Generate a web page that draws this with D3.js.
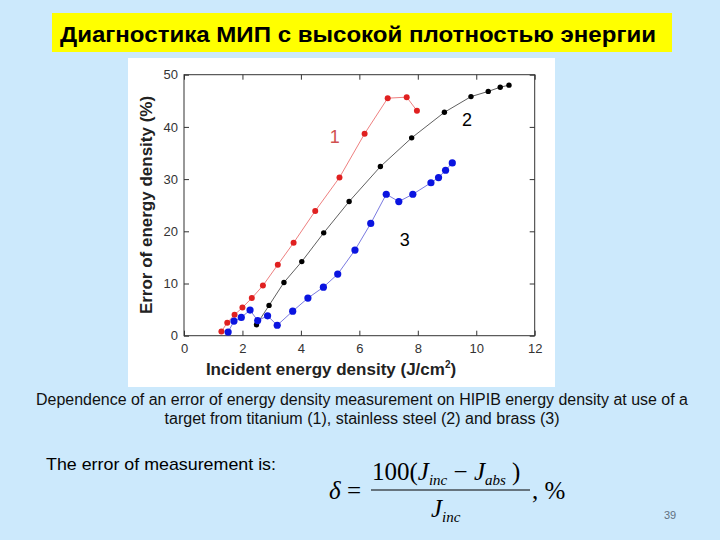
<!DOCTYPE html>
<html>
<head>
<meta charset="utf-8">
<script src="https://cdn.jsdelivr.net/npm/d3@7.9.0/dist/d3.min.js"></script>
<style>
  body { margin: 0; background: #cce9fc; }
  svg { display: block; }
</style>
</head>
<body>
<svg id="slide" width="720" height="540"></svg>
<script>
// Series: titanium (1), stainless steel (2), brass (3)
const xTitanium = [1.28, 1.48, 1.73, 2.0, 2.32, 2.70, 3.21, 3.75, 4.49, 5.32, 6.18, 6.97, 7.62, 7.97];
const yTitanium = [0.8, 2.5, 4.0, 5.4, 7.2, 9.6, 13.6, 17.8, 23.9, 30.3, 38.7, 45.5, 45.7, 43.1];

const xSteel = [2.48, 2.91, 3.42, 4.03, 4.78, 5.65, 6.72, 7.79, 8.91, 9.82, 10.41, 10.82, 11.12];
const ySteel = [2.1, 5.8, 10.2, 14.2, 19.7, 25.7, 32.4, 37.9, 42.8, 45.8, 46.8, 47.6, 48.0];

const xBrass = [1.51, 1.71, 1.96, 2.26, 2.52, 2.86, 3.19, 3.72, 4.24, 4.77, 5.26, 5.85, 6.39, 6.92, 7.35, 7.83, 8.45, 8.71, 8.95, 9.18];
const yBrass = [0.7, 2.8, 3.5, 4.9, 2.9, 3.8, 2.0, 4.7, 7.2, 9.3, 11.8, 16.4, 21.5, 27.1, 25.7, 27.1, 29.3, 30.3, 31.7, 33.1];

const xTicks = [0, 2, 4, 6, 8, 10, 12];
const yTicks = [0, 10, 20, 30, 40, 50];

const seriesLabels = ["1", "2", "3"];
const labelX = [5.16, 9.68, 7.55];
const labelY = [38.0, 41.4, 18.4];

const svg = d3.select('#slide');

// Title box
svg.append('rect')
    .attr('x', 52).attr('y', 13).attr('width', 620).attr('height', 39)
    .attr('fill', '#ffff00');
svg.append('text')
    .attr('x', 60).attr('y', 42)
    .attr('font-family', 'Liberation Sans, Arial, sans-serif')
    .attr('font-weight', 'bold')
    .attr('font-size', 22)
    .attr('textLength', 596)
    .attr('lengthAdjust', 'spacingAndGlyphs')
    .attr('fill', '#000')
    .text('Диагностика МИП с высокой плотностью энергии');

// White chart picture
svg.append('rect')
    .attr('x', 128).attr('y', 58).attr('width', 427).attr('height', 329)
    .attr('fill', '#fff');

const plotLeft = 184, plotRight = 534.7, plotTop = 74.7, plotBottom = 335.7;
const x = d3.scaleLinear().domain([0, 12]).range([plotLeft, plotRight]);
const y = d3.scaleLinear().domain([0, 50]).range([plotBottom, plotTop]);

const g = svg.append('g');

// frame
g.append('rect')
    .attr('x', plotLeft).attr('y', plotTop)
    .attr('width', plotRight - plotLeft).attr('height', plotBottom - plotTop)
    .attr('fill', 'none').attr('stroke', '#333').attr('stroke-width', 1);

function styleAxis(sel) {
    sel.select('.domain').remove();
    sel.selectAll('.tick line').attr('stroke', '#333');
    sel.selectAll('.tick text')
        .attr('font-family', 'Liberation Sans, Arial, sans-serif')
        .attr('font-size', 13)
        .attr('fill', '#333');
}

g.append('g').attr('transform', `translate(0,${plotBottom})`)
    .call(d3.axisBottom(x).tickValues(xTicks).tickSize(-5).tickPadding(8))
    .call(styleAxis);
g.append('g').attr('transform', `translate(0,${plotTop})`)
    .call(d3.axisTop(x).tickValues(xTicks).tickSize(-5).tickFormat(''))
    .call(styleAxis);
g.append('g').attr('transform', `translate(${plotLeft},0)`)
    .call(d3.axisLeft(y).tickValues(yTicks).tickSize(-5).tickPadding(6))
    .call(styleAxis);
g.append('g').attr('transform', `translate(${plotRight},0)`)
    .call(d3.axisRight(y).tickValues(yTicks).tickSize(-5).tickFormat(''))
    .call(styleAxis);

// axis titles
const xTitle = g.append('text')
    .attr('x', 331).attr('y', 375)
    .attr('text-anchor', 'middle')
    .attr('font-family', 'Liberation Sans, Arial, sans-serif')
    .attr('font-weight', 'bold')
    .attr('font-size', 17)
    .attr('fill', '#222');
xTitle.append('tspan').text('Incident energy density (J/cm');
xTitle.append('tspan').attr('font-size', 10).attr('dy', -7).text('2');
xTitle.append('tspan').attr('dy', 7).text(')');

g.append('text')
    .attr('transform', 'translate(152,205) rotate(-90)')
    .attr('text-anchor', 'middle')
    .attr('font-family', 'Liberation Sans, Arial, sans-serif')
    .attr('font-weight', 'bold')
    .attr('font-size', 17)
    .attr('fill', '#222')
    .text('Error of energy density (%)');

const series = [
    { xs: xTitanium, ys: yTitanium, line: '#ee8080', dot: '#e02020', r: 3 },
    { xs: xSteel, ys: ySteel, line: '#606060', dot: '#000', r: 2.7 },
    { xs: xBrass, ys: yBrass, line: '#7a7ae0', dot: '#0a14e0', r: 3.6 }
];

const line = d3.line().x(d => x(d[0])).y(d => y(d[1]));

series.forEach(s => {
    const pts = s.xs.map((v, i) => [v, s.ys[i]]);
    g.append('path')
        .attr('d', line(pts))
        .attr('fill', 'none')
        .attr('stroke', s.line)
        .attr('stroke-width', 1);
    g.selectAll(null).data(pts).enter().append('circle')
        .attr('cx', d => x(d[0]))
        .attr('cy', d => y(d[1]))
        .attr('r', s.r)
        .attr('fill', s.dot);
});

const labelColors = ['#d05050', '#000', '#000'];
seriesLabels.forEach((t, i) => {
    g.append('text')
        .attr('x', x(labelX[i])).attr('y', y(labelY[i]))
        .attr('text-anchor', 'middle')
        .attr('dominant-baseline', 'central')
        .attr('font-family', 'Liberation Sans, Arial, sans-serif')
        .attr('font-size', 18)
        .attr('fill', labelColors[i])
        .text(t);
});

// caption
const cap = svg.append('text')
    .attr('text-anchor', 'middle')
    .attr('font-family', 'Liberation Sans, Arial, sans-serif')
    .attr('font-size', 16)
    .attr('fill', '#111');
cap.append('tspan').attr('x', 362).attr('y', 405)
    .attr('textLength', 652).attr('lengthAdjust', 'spacingAndGlyphs')
    .text('Dependence of an error of energy density measurement on HIPIB energy density at use of a');
cap.append('tspan').attr('x', 362).attr('y', 424)
    .attr('textLength', 395).attr('lengthAdjust', 'spacingAndGlyphs')
    .text('target from titanium (1), stainless steel (2) and brass (3)');

svg.append('text')
    .attr('x', 46).attr('y', 470)
    .attr('font-family', 'Liberation Sans, Arial, sans-serif')
    .attr('font-size', 17)
    .attr('textLength', 230)
    .attr('lengthAdjust', 'spacingAndGlyphs')
    .attr('fill', '#000')
    .text('The error of measurement is:');

// formula
const serif = 'Liberation Serif, Times New Roman, serif';
const f = svg.append('g').attr('font-family', serif).attr('fill', '#000');
f.append('text').attr('x', 329).attr('y', 499).attr('font-size', 25)
    .attr('font-style', 'italic').text('δ');
f.append('text').attr('x', 347).attr('y', 499).attr('font-size', 25).text('=');
const num = f.append('text').attr('x', 372).attr('y', 480).attr('font-size', 25);
num.append('tspan').text('100(');
num.append('tspan').attr('font-style', 'italic').text('J');
num.append('tspan').attr('font-style', 'italic').attr('font-size', 15).attr('dy', 5).text('inc');
num.append('tspan').attr('dy', -5).text(' − ');
num.append('tspan').attr('font-style', 'italic').text('J');
num.append('tspan').attr('font-style', 'italic').attr('font-size', 15).attr('dy', 5).text('abs');
num.append('tspan').attr('dy', -5).text('  )');
f.append('line').attr('x1', 371).attr('x2', 530).attr('y1', 490).attr('y2', 490)
    .attr('stroke', '#000').attr('stroke-width', 1.2);
const den = f.append('text').attr('x', 431).attr('y', 517).attr('font-size', 25);
den.append('tspan').attr('font-style', 'italic').text('J');
den.append('tspan').attr('font-style', 'italic').attr('font-size', 15).attr('dy', 5).text('inc');
f.append('text').attr('x', 532).attr('y', 499).attr('font-size', 25).text(', %');

svg.append('text')
    .attr('x', 670).attr('y', 519)
    .attr('text-anchor', 'middle')
    .attr('font-family', 'Liberation Sans, Arial, sans-serif')
    .attr('font-size', 11)
    .attr('fill', '#607080')
    .text('39');
</script>
</body>
</html>
